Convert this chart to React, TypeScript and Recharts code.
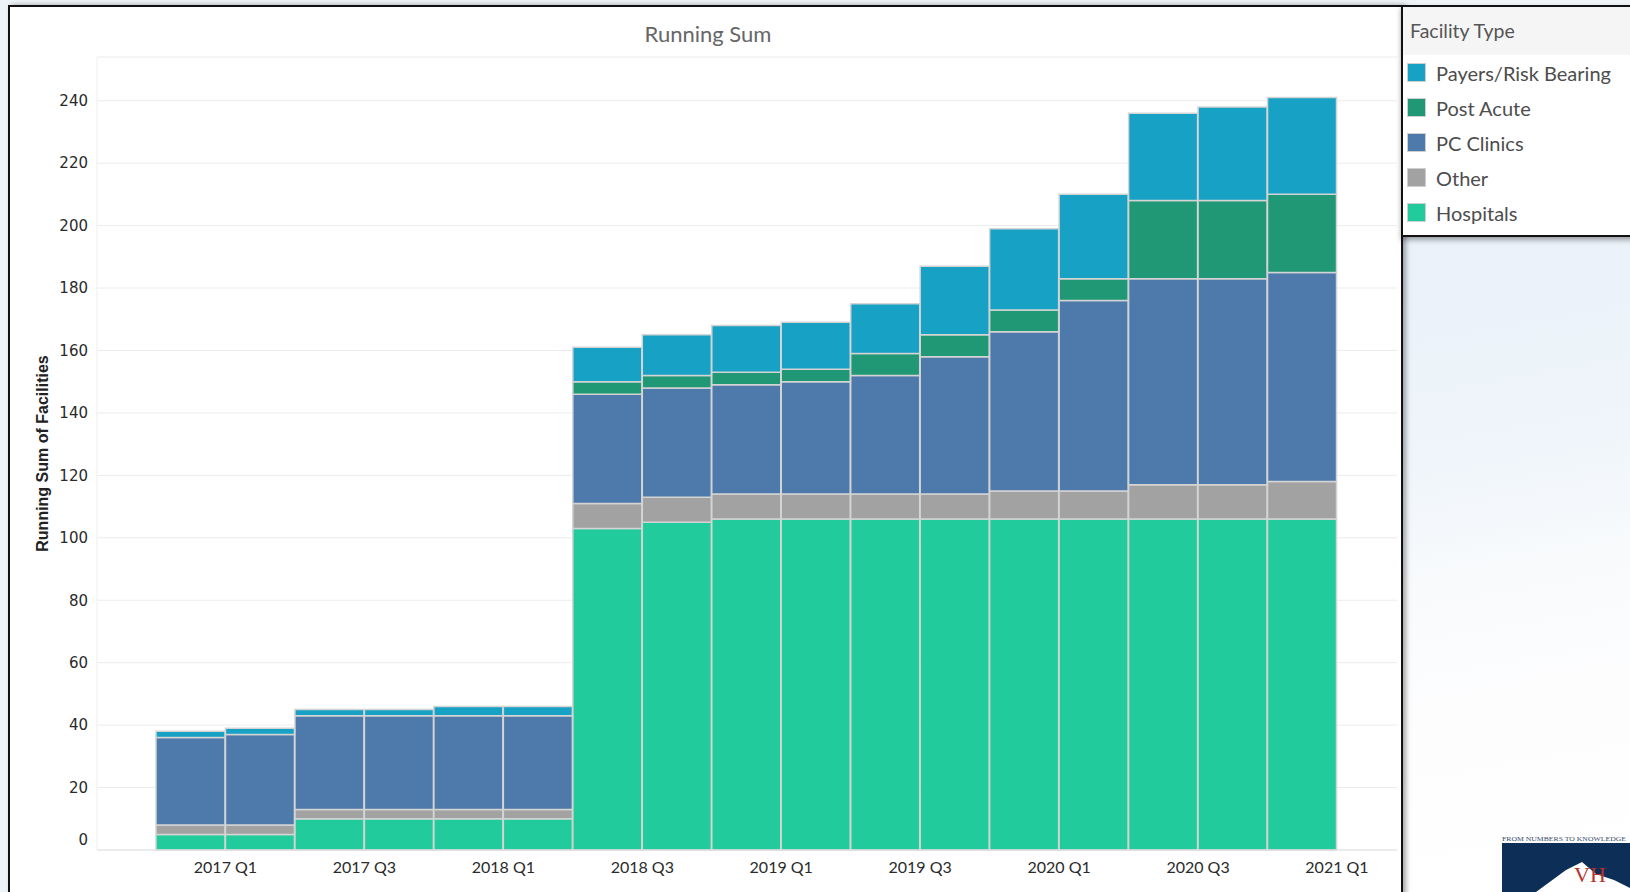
import React from 'react';
import { BarChart, Bar, XAxis, YAxis, CartesianGrid, Legend } from 'recharts';

// ---------- data ----------
const quarters = [
  '2016 Q4', '2017 Q1', '2017 Q2', '2017 Q3', '2017 Q4', '2018 Q1', '2018 Q2', '2018 Q3', '2018 Q4',
  '2019 Q1', '2019 Q2', '2019 Q3', '2019 Q4', '2020 Q1', '2020 Q2', '2020 Q3', '2020 Q4',
];
const hospitals = [5, 5, 10, 10, 10, 10, 103, 105, 106, 106, 106, 106, 106, 106, 106, 106, 106];
const other = [3, 3, 3, 3, 3, 3, 8, 8, 8, 8, 8, 8, 9, 9, 11, 11, 12];
const pcClinics = [28, 29, 30, 30, 30, 30, 35, 35, 35, 36, 38, 44, 51, 61, 66, 66, 67];
const postAcute = [0, 0, 0, 0, 0, 0, 4, 4, 4, 4, 7, 7, 7, 7, 25, 25, 25];
const payers = [2, 2, 2, 2, 3, 3, 11, 13, 15, 15, 16, 22, 26, 27, 28, 30, 31];

// tick labels sit on the boundary after every second quarter
const xTickLabels = ['2017 Q1', '2017 Q3', '2018 Q1', '2018 Q3', '2019 Q1', '2019 Q3', '2020 Q1', '2020 Q3', '2021 Q1'];
const yTicks = [0, 20, 40, 60, 80, 100, 120, 140, 160, 180, 200, 220, 240];

const seriesNames = ['Hospitals', 'Other', 'PC Clinics', 'Post Acute', 'Payers/Risk Bearing'];
const seriesKeys = ['hospitals', 'other', 'pcClinics', 'postAcute', 'payers'];
const seriesColors = ['#21cb9b', '#a2a2a2', '#4e7aab', '#209875', '#16a1c5'];

const data = quarters.map((q, i) => ({
  quarter: q,
  hospitals: hospitals[i],
  other: other[i],
  pcClinics: pcClinics[i],
  postAcute: postAcute[i],
  payers: payers[i],
}));

// ---------- layout ----------
const W = 1630;
const H = 892;
const MARGIN = { top: 57, right: 233, bottom: 12, left: 37 };
const Y_AXIS_W = 60;
const X_AXIS_H = 30;
const PAD_L = 59;
const PAD_R = 60;
const PLOT_W = W - MARGIN.left - MARGIN.right - Y_AXIS_W;
const BAND = (PLOT_W - PAD_L - PAD_R) / quarters.length;

const XTick = (props: any) => {
  const { x, y, index } = props;
  if (index % 2 !== 0) return <g />;
  const label = xTickLabels[index / 2];
  return (
    <text
      x={x + BAND / 2}
      y={y + 23}
      textAnchor="middle"
      fill="#2a2a2a"
      fontFamily="Lato, 'Open Sans', sans-serif"
      fontSize={16}
    >
      {label}
    </text>
  );
};

const YTick = (props: any) => {
  const { x, y, payload } = props;
  return (
    <text
      x={x}
      y={payload.value === 0 ? y - 10 : y}
      dy="0.355em"
      textAnchor="end"
      fill="#2a2a2a"
      fontFamily="'DejaVu Sans', Verdana, sans-serif"
      fontSize={15}
    >
      {payload.value}
    </text>
  );
};

const YLabel = (props: any) => {
  const { viewBox } = props;
  const cx = viewBox.x + 5;
  const cy = viewBox.y + viewBox.height / 2;
  return (
    <text
      x={cx}
      y={cy}
      transform={`rotate(-90, ${cx}, ${cy})`}
      textAnchor="middle"
      dominantBaseline="central"
      fill="#222"
      fontWeight="bold"
      fontFamily="'Liberation Sans', Arial, sans-serif"
      fontSize={16}
    >
      Running Sum of Facilities
    </text>
  );
};

const LegendContent = (props: any) => {
  const items = [...(props.payload || [])].sort(
    (a: any, b: any) => seriesNames.indexOf(b.value) - seriesNames.indexOf(a.value)
  );
  return (
    <div style={{ width: 227, fontFamily: "Lato, 'Open Sans', sans-serif" }}>
      <div
        style={{
          height: 48,
          background: '#f5f5f5',
          color: '#555',
          fontSize: 19.5,
          lineHeight: '48px',
          paddingLeft: 7,
        }}
      >
        Facility Type
      </div>
      {items.map((it: any) => (
        <div key={it.value} style={{ height: 35, display: 'flex', alignItems: 'center' }}>
          <span
            style={{
              display: 'inline-block',
              width: 17,
              height: 17,
              marginLeft: 4,
              marginRight: 10,
              background: it.color,
              border: '1px solid #cfcfcf',
            }}
          />
          <span style={{ color: '#4d4d4d', fontSize: 20 }}>{it.value}</span>
        </div>
      ))}
    </div>
  );
};

export default function App() {
  return (
    <div
      style={{
        position: 'fixed',
        left: 0,
        top: 0,
        width: W,
        height: H,
        overflow: 'hidden',
        background: '#eef3f8',
      }}
    >
      {/* watermark area right of chart */}
      <div
        style={{
          position: 'absolute',
          left: 1403,
          top: 236,
          width: 227,
          height: 656,
          background: 'linear-gradient(170deg, #e9f1f9 0%, #eef4fa 30%, #f8fafc 50%, #fdfdfe 70%, #ffffff 100%)',
        }}
      />
      {/* chart panel */}
      <div
        style={{
          position: 'absolute',
          left: 8,
          top: 5,
          width: 1395,
          height: 900,
          background: '#fff',
          borderLeft: '2px solid #111',
          borderTop: '2px solid #111',
          borderRight: '2px solid #111',
          boxSizing: 'border-box',
          boxShadow: '3px 0 5px rgba(0,0,0,0.35)',
        }}
      />
      {/* legend box */}
      <div
        style={{
          position: 'absolute',
          left: 1401,
          top: 5,
          width: 240,
          height: 232,
          background: '#fff',
          borderTop: '2px solid #111',
          borderLeft: '2px solid #111',
          borderBottom: '2px solid #111',
          boxSizing: 'border-box',
          boxShadow: '0 3px 5px rgba(0,0,0,0.35)',
        }}
      />
      {/* title */}
      <div
        style={{
          position: 'absolute',
          left: 558,
          top: 21,
          width: 300,
          textAlign: 'center',
          fontFamily: "Lato, 'Open Sans', sans-serif",
          fontSize: 22,
          lineHeight: '26px',
          color: '#666',
        }}
      >
        Running Sum
      </div>

      <div style={{ position: 'absolute', left: 0, top: 0 }}>
        <BarChart width={W} height={H} data={data} margin={MARGIN} barCategoryGap={0} barGap={0}>
          <CartesianGrid vertical={false} stroke="#ececec" strokeWidth={1} />
          <XAxis
            dataKey="quarter"
            height={X_AXIS_H}
            padding={{ left: PAD_L, right: PAD_R }}
            interval={0}
            tick={<XTick />}
            tickLine={false}
            tickSize={0}
            tickMargin={0}
            axisLine={{ stroke: '#e2e2e2' }}
          />
          <YAxis
            width={Y_AXIS_W}
            domain={[0, 254]}
            ticks={yTicks}
            interval={0}
            tick={<YTick />}
            tickLine={false}
            tickSize={0}
            tickMargin={9}
            axisLine={{ stroke: '#efefef' }}
            label={<YLabel />}
          />
          {seriesKeys.map((k, i) => (
            <Bar
              key={k}
              dataKey={k}
              name={seriesNames[i]}
              stackId="a"
              fill={seriesColors[i]}
              stroke="#d4d4d4"
              strokeWidth={1.5}
              isAnimationActive={false}
            />
          ))}
          <Legend
            layout="vertical"
            align="center"
            verticalAlign="middle"
            content={<LegendContent />}
            wrapperStyle={{ position: 'absolute', left: 1403, top: 7, width: 227, height: 226 }}
          />
        </BarChart>
      </div>

      {/* logo corner */}
      <svg style={{ position: 'absolute', left: 1496, top: 832 }} width={134} height={60}>
        <text
          x={6}
          y={9}
          fontSize={7}
          fill="#3a4a6a"
          fontFamily="'Liberation Serif', serif"
          textLength={124}
          lengthAdjust="spacingAndGlyphs"
        >
          FROM NUMBERS TO KNOWLEDGE
        </text>
        <rect x={6} y={11} width={128} height={49} fill="#0d2f57" />
        <polygon points="40,60 70,38 86,30 100,42 118,48 134,56 134,60" fill="#ffffff" />
        <text x={78} y={50} fontSize={22} fill="#b5302a" fontFamily="'Liberation Serif', serif">
          VH
        </text>
      </svg>
    </div>
  );
}
